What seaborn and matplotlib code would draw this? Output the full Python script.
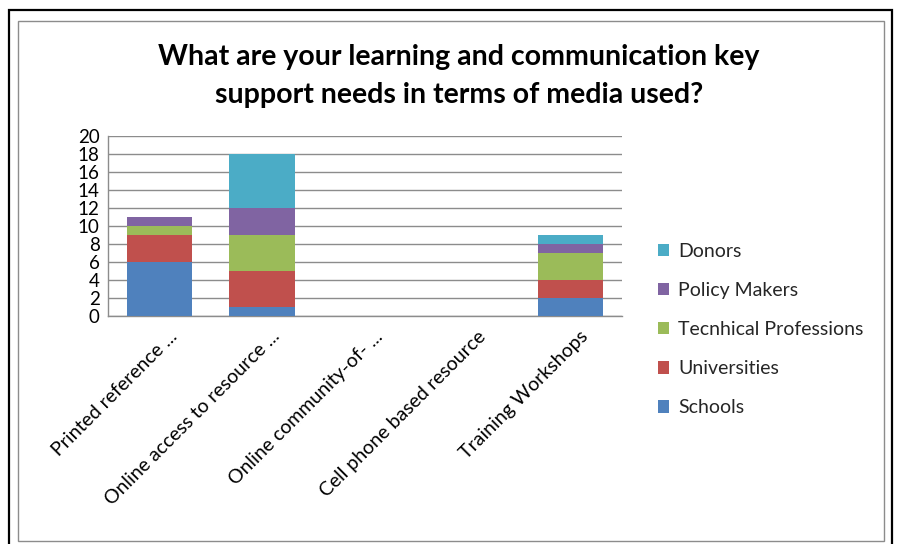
import matplotlib
matplotlib.use("Agg")
import matplotlib.pyplot as plt
from matplotlib.patches import Rectangle, Patch
from matplotlib.transforms import ScaledTranslation
import numpy as np
import pandas as pd
import seaborn as sns

categories = [
    "Printed reference ...",
    "Online access to resource ...",
    "Online community-of- ...",
    "Cell phone based resource",
    "Training Workshops",
]
groups = ["Schools", "Universities", "Tecnhical Professions", "Policy Makers", "Donors"]
schools = [6, 1, 0, 0, 2]
universities = [3, 4, 0, 0, 2]
technical = [1, 4, 0, 0, 3]
policy_makers = [1, 3, 0, 0, 1]
donors = [0, 6, 0, 0, 1]
colors = ["#4F81BD", "#C0504D", "#9BBB59", "#8064A2", "#4BACC6"]
yticks = list(range(0, 21, 2))

series = [schools, universities, technical, policy_makers, donors]

sns.set_theme(style="white")
plt.rcParams["font.family"] = ["Lato", "DejaVu Sans"]

W, H = 897, 544
fig = plt.figure(figsize=(W / 100, H / 100), dpi=100)

# outer frame and inner chart-area frame
fig.patches.append(Rectangle((9 / W, -0.05), 883 / W, 1 - 10 / H + 0.05,
                             transform=fig.transFigure, fill=False,
                             edgecolor="black", linewidth=1.6))
fig.patches.append(Rectangle((18 / W, 3 / H), 866 / W, 1 - 24 / H,
                             transform=fig.transFigure, fill=False,
                             edgecolor="#8c8c8c", linewidth=1.0))

ax = fig.add_axes([108 / W, 1 - 316 / H, 514 / W, 180 / H])

# stacked bars: draw cumulative totals from the top segment down
cum = np.cumsum(np.array(series), axis=0)
for i in range(len(groups) - 1, -1, -1):
    df = pd.DataFrame({"category": categories, "value": cum[i]})
    sns.barplot(data=df, x="category", y="value", color=colors[i],
                saturation=1, width=0.64, linewidth=0, ax=ax, zorder=3)

ax.set_ylim(0, 20)
ax.set_xlim(-0.5, len(categories) - 0.5)
ax.set_yticks(yticks)
ax.set_yticklabels([str(t) for t in yticks], fontsize=13.5, color="black")
ax.yaxis.grid(True, color="#8c8c8c", linewidth=1.0, zorder=0)
ax.set_axisbelow(True)
ax.tick_params(axis="y", length=0, pad=6)
ax.tick_params(axis="x", length=0, pad=4)
ax.set_xticks(range(len(categories)))
ax.set_xticklabels(categories, rotation=45, ha="right", rotation_mode="anchor",
                   fontsize=14, color="black")
shift = ScaledTranslation(9 / 100, -6 / 100, fig.dpi_scale_trans)
for lbl in ax.get_xticklabels():
    lbl.set_transform(lbl.get_transform() + shift)
ax.set_xlabel("")
ax.set_ylabel("")
for s in ["top", "right"]:
    ax.spines[s].set_visible(False)
for s in ["left", "bottom"]:
    ax.spines[s].set_color("#8c8c8c")
    ax.spines[s].set_linewidth(1.0)

fig.text(459 / W, 1 - 57 / H, "What are your learning and communication key",
         ha="center", va="center", fontsize=20.5, fontweight="bold", color="black")
fig.text(459 / W, 1 - 95 / H, "support needs in terms of media used?",
         ha="center", va="center", fontsize=20.5, fontweight="bold", color="black")

handles = [Patch(facecolor=colors[i], edgecolor="none") for i in range(len(groups) - 1, -1, -1)]
labels = [groups[i] for i in range(len(groups) - 1, -1, -1)]
fig.legend(handles, labels, loc="upper left", bbox_to_anchor=(650 / W, 1 - 235 / H),
           frameon=False, fontsize=14, handlelength=0.6, handleheight=0.6,
           handletextpad=0.45, labelspacing=1.14, borderaxespad=0)

fig.savefig("out.png", dpi=100)
